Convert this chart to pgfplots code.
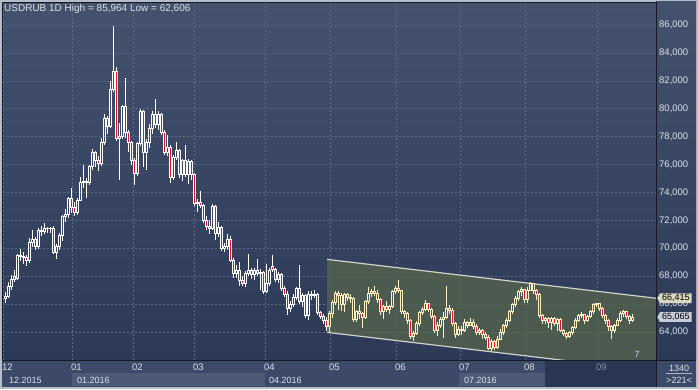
\documentclass[border=0pt]{standalone}
\usepackage{fontspec}
\setmainfont{Liberation Sans}
\usepackage{pgfplots}
\pgfplotsset{compat=1.18}
\usepackage{pgfplotstable}
\usetikzlibrary{shapes.symbols}

\definecolor{bgtop}{HTML}{44526E}
\definecolor{bgbot}{HTML}{2C3957}
\definecolor{gridcol}{HTML}{5B6A88}
\definecolor{framecol}{HTML}{B4BDCA}
\definecolor{stripcol}{HTML}{3C4969}
\definecolor{stripbox}{HTML}{4C5977}
\definecolor{stripdark}{HTML}{2A3654}
\definecolor{txtcol}{HTML}{DDE2EA}
\definecolor{dimcol}{HTML}{7F8AA2}
\definecolor{candleW}{HTML}{FFFFFF}
\definecolor{candleC}{HTML}{FFF0C2}
\definecolor{candleR}{HTML}{E3102E}
\definecolor{chanfill}{RGB}{86,99,76}
\definecolor{chanline}{HTML}{D2D2CC}
\definecolor{flagA}{HTML}{D8D8C0}
\definecolor{flagB}{HTML}{C8CCD8}
\definecolor{sepcol}{HTML}{141A26}

\pgfplotstableread{
x o h l c
5 66.40 66.85 66.05 66.55
8 66.55 67.55 66.45 67.30
11 67.30 68.10 67.00 67.75
14 67.75 68.45 67.55 67.95
17 67.85 69.60 67.70 69.50
20 69.50 69.95 69.10 69.45
23 69.45 69.70 68.90 69.35
26 69.35 69.50 68.70 69.10
29 69.10 70.70 68.95 70.40
32 70.40 71.30 70.10 70.65
35 70.65 70.80 69.90 70.10
38 70.10 71.45 69.95 71.30
41 71.30 71.60 70.90 71.20
44 71.20 71.80 71.00 71.45
47 71.45 71.55 71.10 71.40
50 71.40 71.55 71.10 71.45
53 71.45 71.60 69.55 69.70
56 69.70 70.30 69.20 70.10
59 70.10 71.10 69.90 70.90
62 70.90 72.40 70.50 72.30
65 72.30 72.80 71.90 72.45
68 72.45 73.70 72.20 73.60
71 73.60 74.30 72.50 72.90
74 72.90 73.30 72.30 72.60
77 72.60 73.60 72.40 73.45
80 73.45 75.10 73.40 74.75
83 74.75 76.00 74.30 74.80
86 74.80 75.00 73.60 74.70
89 74.70 76.00 74.50 75.90
92 75.90 77.10 75.60 76.90
95 76.90 77.00 75.80 76.30
98 76.30 76.60 75.50 76.10
101 76.10 77.90 75.90 77.60
104 77.60 79.60 77.40 79.30
107 79.30 79.50 78.20 78.70
110 78.70 82.00 78.60 81.40
113 81.40 85.96 81.20 82.65
116 82.65 83.00 77.70 77.90
119 77.90 79.00 74.90 78.00
122 78.00 80.30 77.80 80.15
125 80.15 82.20 77.90 78.30
128 78.30 78.50 76.90 77.60
131 77.60 77.70 76.00 76.30
134 76.30 76.50 74.50 75.40
137 75.40 77.60 75.20 77.50
140 77.50 79.95 77.30 79.80
143 79.80 79.90 75.80 76.90
146 76.90 77.80 75.60 77.60
149 77.60 78.90 77.20 78.60
152 78.60 79.80 78.20 79.60
155 79.60 80.70 78.60 78.90
158 78.90 79.80 78.50 79.60
161 79.60 79.70 78.10 78.30
164 78.30 78.50 76.70 76.90
167 76.90 78.10 76.60 77.20
170 77.20 77.40 74.70 75.10
173 75.10 76.70 74.90 76.50
176 76.50 77.60 76.30 77.00
179 77.00 77.10 75.00 75.30
182 75.30 76.40 74.80 76.30
185 76.30 77.40 75.10 75.30
188 75.30 76.40 74.60 76.20
191 76.20 76.30 74.90 75.30
194 75.30 75.40 73.00 73.20
197 73.20 73.50 72.60 73.30
200 73.30 74.10 72.90 73.10
203 73.10 73.20 71.80 72.00
206 72.00 72.30 71.30 71.60
209 71.60 72.00 71.00 71.40
212 71.40 73.20 71.30 73.00
215 73.00 73.10 70.60 71.10
218 71.10 71.90 70.80 71.50
221 71.50 71.60 69.80 70.00
224 70.00 70.40 69.70 70.10
227 70.10 71.00 69.90 70.60
230 70.60 70.90 69.00 69.15
233 69.15 69.30 67.90 68.20
236 68.20 68.80 67.90 68.40
239 68.40 69.00 67.30 67.70
242 67.70 68.00 67.30 67.50
245 67.50 68.40 67.20 68.20
248 68.20 69.60 68.00 68.40
251 68.40 68.60 67.80 68.10
254 68.10 68.60 67.70 68.40
257 68.40 69.20 68.00 68.20
260 68.20 68.50 67.00 68.30
263 68.30 68.40 66.70 66.90
266 66.90 68.90 66.80 67.50
269 67.50 68.60 67.30 68.40
272 68.70 69.50 68.30 68.45
275 68.45 68.60 67.60 67.80
278 67.80 68.30 67.50 68.10
281 68.10 68.20 66.90 67.10
284 67.10 67.30 66.50 66.70
287 66.70 66.90 65.20 65.70
290 65.70 66.20 65.40 66.00
293 66.00 66.70 65.80 66.50
296 66.50 67.20 66.30 67.10
299 67.10 68.80 66.00 66.20
302 66.20 66.80 65.80 66.60
305 66.60 66.70 65.00 65.20
308 65.20 66.90 64.85 66.70
311 66.70 66.90 66.30 66.60
314 66.60 67.00 66.40 66.70
317 66.70 66.80 65.20 65.40
320 65.40 65.50 64.90 65.10
323 65.10 65.30 64.60 64.80
326 64.80 65.10 64.10 64.40
}\dataA

\pgfplotstableread{
x o h l c
329 64.40 65.50 64.00 65.35
332 65.35 66.30 65.00 66.10
335 66.10 66.90 65.90 66.75
338 66.75 66.90 65.60 66.65
341 66.65 66.80 65.50 65.95
344 65.95 66.80 65.40 66.70
347 66.70 66.80 66.20 66.50
350 66.50 66.70 66.10 66.40
353 66.40 66.50 64.70 64.90
356 64.90 65.60 64.70 65.45
359 65.45 65.90 64.90 65.30
362 65.30 65.40 64.30 65.05
365 65.05 66.30 64.90 66.20
368 66.20 67.20 66.00 66.75
371 66.75 67.10 66.50 66.90
374 66.90 67.30 66.60 66.80
377 66.80 67.00 66.10 66.30
380 66.30 66.40 65.20 65.45
383 65.45 65.90 64.90 65.80
386 65.80 66.20 65.40 65.60
389 65.60 65.90 65.30 65.80
392 65.80 67.00 65.70 66.90
395 66.90 67.30 66.70 67.10
398 67.10 67.70 66.80 66.95
401 66.95 67.00 65.30 65.45
404 65.45 65.60 65.00 65.30
407 65.30 65.40 64.60 64.80
410 64.80 64.90 63.50 63.70
413 63.70 64.10 63.37 63.90
416 63.90 64.80 63.80 64.60
419 64.60 65.50 64.40 65.40
422 65.40 65.80 65.20 65.60
425 65.60 66.30 65.50 66.05
428 66.05 66.10 65.40 65.60
431 65.60 65.70 64.90 65.10
434 65.10 65.20 63.90 64.10
437 64.10 64.70 63.70 64.50
440 64.50 65.10 64.30 64.90
443 64.90 65.40 63.60 65.05
446 65.05 67.30 64.90 65.70
449 65.70 65.90 65.30 65.55
452 65.55 65.70 64.40 64.60
455 64.60 64.70 63.60 63.80
458 63.80 64.40 63.70 64.20
461 64.20 64.40 63.80 64.10
464 64.10 64.90 64.00 64.70
467 64.70 64.80 64.30 64.50
470 64.50 65.00 64.40 64.70
473 64.70 64.90 64.20 64.40
476 64.40 64.60 63.80 64.00
479 64.00 64.30 63.80 64.10
482 64.10 64.20 63.50 63.80
485 63.80 64.00 63.40 63.60
488 63.60 63.80 62.70 62.85
491 62.85 63.50 62.61 63.30
494 63.30 63.40 62.70 62.90
497 62.90 63.70 62.80 63.50
500 63.50 64.20 63.40 64.00
503 64.00 64.60 63.80 64.50
506 64.50 65.00 64.30 64.85
509 64.85 65.60 64.70 65.45
512 65.45 66.10 65.30 66.00
515 66.00 66.60 65.80 66.40
518 66.40 67.00 66.20 66.90
521 66.90 67.20 66.60 67.05
524 67.05 67.10 66.10 66.30
527 66.30 67.20 66.10 67.00
530 67.00 67.55 66.90 67.45
533 67.45 67.50 66.70 66.95
536 66.95 67.10 66.30 66.70
539 66.70 66.80 65.00 65.20
542 65.20 65.30 64.60 64.85
545 64.85 65.10 64.60 64.95
548 64.95 65.05 64.30 64.70
551 64.70 65.10 64.15 64.95
554 64.95 65.10 64.40 64.60
557 64.60 65.00 64.10 64.90
560 64.90 65.00 64.00 64.10
563 64.10 64.20 63.70 63.90
566 63.90 64.00 63.50 63.70
569 63.70 64.10 63.60 63.95
572 63.95 64.40 63.80 64.30
575 64.30 65.00 64.20 64.85
578 64.85 65.30 64.70 65.20
581 65.20 65.40 65.00 65.25
584 65.25 65.30 64.60 64.80
587 64.80 65.20 64.70 65.10
590 65.10 65.60 65.00 65.45
593 65.45 66.10 65.30 66.00
596 66.00 66.10 65.80 66.05
599 66.05 66.10 65.50 65.70
602 65.70 65.80 65.00 65.20
605 65.20 65.30 64.60 64.80
608 64.80 64.90 64.10 64.40
611 64.40 64.50 63.50 64.10
614 64.10 64.60 63.90 64.50
617 64.50 65.00 64.40 64.85
620 64.85 65.50 64.70 65.30
623 65.30 65.60 65.10 65.45
626 65.45 65.50 64.90 65.10
629 65.10 65.20 64.60 64.85
632 64.85 65.30 64.70 65.065
}\dataB

\pgfplotsset{
  base/.style={scale only axis, width=653pt, height=357pt,
    xmin=3, xmax=656, ymin=61.987, ymax=87.577,
    at={(3pt,29pt)}, anchor=south west},
}

\begin{document}
\begin{tikzpicture}[x=1pt,y=1pt]
\fill[framecol] (0,0) rectangle (698,389);
\fill[stripcol] (2,2) rectangle (696,29);
\shade[top color=bgtop, bottom color=bgbot] (656,29) rectangle (696,387);
\fill[stripbox] (72,3) rectangle (265,16);
\fill[stripbox] (459,3) rectangle (545,16);
\fill[stripdark] (545,2) rectangle (656,29);

\begin{axis}[base,
  axis background/.style={top color=bgtop, bottom color=bgbot},
  axis line style={draw=none}, tick style={draw=none},
  grid=major,
  major grid style={gridcol, dash pattern=on 2pt off 2pt, line width=0.5pt},
  xtick={3,72,133,194,265,330,396,460,525,597},
  xticklabels={12,01,02,03,04,05,06,07,08,\textcolor{dimcol}{09}},
  ytick={64,66,...,86},
  yticklabel pos=right,
  tick label style={font=\fontsize{9.5}{10}\selectfont, text=txtcol},
  x tick label style={anchor=north west, inner sep=0pt, xshift=-1pt, yshift=-3.5pt},
  y tick label style={anchor=west, inner sep=0pt, xshift=3pt,
    /pgf/number format/.cd, fixed, fixed zerofill, precision=3, use comma, 1000 sep={}, assume math mode=true},
]
\addplot [fill=chanfill, fill opacity=0.78, draw=none] coordinates {(327,69.20) (656,66.415) (656,61.18) (327,63.97)} -- cycle;
\addplot [chanline, line width=1.2pt] coordinates {(327,69.20) (656,66.415)};
\addplot [chanline, line width=1.2pt] coordinates {(327,63.97) (656,61.18)};

\addplot [draw=none, mark=none, error bars/.cd, y dir=plus, y explicit, error mark=none,
  error bar style={draw=candleW, line width=0.7pt}]
  table [x=x, y expr={max(\thisrow{o},\thisrow{c})}, y error plus expr={\thisrow{h}-max(\thisrow{o},\thisrow{c})}] {\dataA};
\addplot [draw=none, mark=none, error bars/.cd, y dir=minus, y explicit, error mark=none,
  error bar style={draw=candleW, line width=0.7pt}]
  table [x=x, y expr={min(\thisrow{o},\thisrow{c})}, y error minus expr={min(\thisrow{o},\thisrow{c})-\thisrow{l}}] {\dataA};
\addplot [draw=none, mark=none, error bars/.cd, y dir=plus, y explicit, error mark=none,
  error bar style={draw=candleC, line width=0.7pt}]
  table [x=x, y expr={max(\thisrow{o},\thisrow{c})}, y error plus expr={\thisrow{h}-max(\thisrow{o},\thisrow{c})}] {\dataB};
\addplot [draw=none, mark=none, error bars/.cd, y dir=minus, y explicit, error mark=none,
  error bar style={draw=candleC, line width=0.7pt}]
  table [x=x, y expr={min(\thisrow{o},\thisrow{c})}, y error minus expr={min(\thisrow{o},\thisrow{c})-\thisrow{l}}] {\dataB};
\end{axis}

\begin{axis}[base, hide axis, ybar stacked, bar width=2.0pt]
\addplot [draw=none, fill=none] table [x=x, y expr={min(\thisrow{o},\thisrow{c})}] {\dataA};
\addplot [draw=candleW, fill=none, line width=0.7pt] table [x=x, y expr={max(\thisrow{c}-\thisrow{o},0)}] {\dataA};
\addplot [draw=candleW, fill=candleR, line width=0.7pt] table [x=x, y expr={max(\thisrow{o}-\thisrow{c},0)}] {\dataA};
\end{axis}

\begin{axis}[base, hide axis, ybar stacked, bar width=2.0pt]
\addplot [draw=none, fill=none] table [x=x, y expr={min(\thisrow{o},\thisrow{c})}] {\dataB};
\addplot [draw=candleC, fill=none, line width=0.7pt] table [x=x, y expr={max(\thisrow{c}-\thisrow{o},0)}] {\dataB};
\addplot [draw=candleC, fill=candleR, line width=0.7pt] table [x=x, y expr={max(\thisrow{o}-\thisrow{c},0)}] {\dataB};
\end{axis}

\begin{axis}[base, hide axis, clip=false]
\node[signal, signal to=west, signal pointer angle=120, fill=flagA, inner xsep=2pt, inner ysep=1.2pt,
  anchor=west, font=\fontsize{9}{9}\selectfont, text=black] at (axis cs:657,66.415) {66,415};
\node[signal, signal to=west, signal pointer angle=120, fill=flagB, inner xsep=2pt, inner ysep=1.2pt,
  anchor=west, font=\fontsize{9}{9}\selectfont, text=black] at (axis cs:657,65.065) {65,065};
\node[font=\fontsize{9}{10}\selectfont, text=cyan!35!white] at (axis cs:637,62.4) {7};
\end{axis}

\draw[sepcol, line width=0.8pt] (2,29) -- (696,29);
\draw[sepcol, line width=0.8pt] (656,2) -- (656,387);
\draw[sepcol, line width=0.6pt] (2.6,29) -- (2.6,386.6) -- (656,386.6);

\node[anchor=west, inner sep=0pt, text=txtcol, font=\fontsize{10}{11}\selectfont] at (4,380) {USDRUB 1D High = 85,964 Low = 62,606};

\begin{scope}[every node/.style={anchor=west, inner sep=0pt, text=txtcol, font=\fontsize{9}{10}\selectfont}]
\node at (9,8.5) {12.2015};
\node at (77,8.5) {01.2016};
\node at (269,8.5) {04.2016};
\node at (464,8.5) {07.2016};
\end{scope}
\node[inner sep=0pt, text=txtcol, font=\fontsize{9}{10}\selectfont] at (679,21) {1340};
\draw[txtcol!80!black, line width=0.5pt] (666,15.5) -- (692,15.5);
\node[inner sep=0pt, text=txtcol, font=\fontsize{9}{10}\selectfont] at (679,9) {>221<};
\end{tikzpicture}
\end{document}
